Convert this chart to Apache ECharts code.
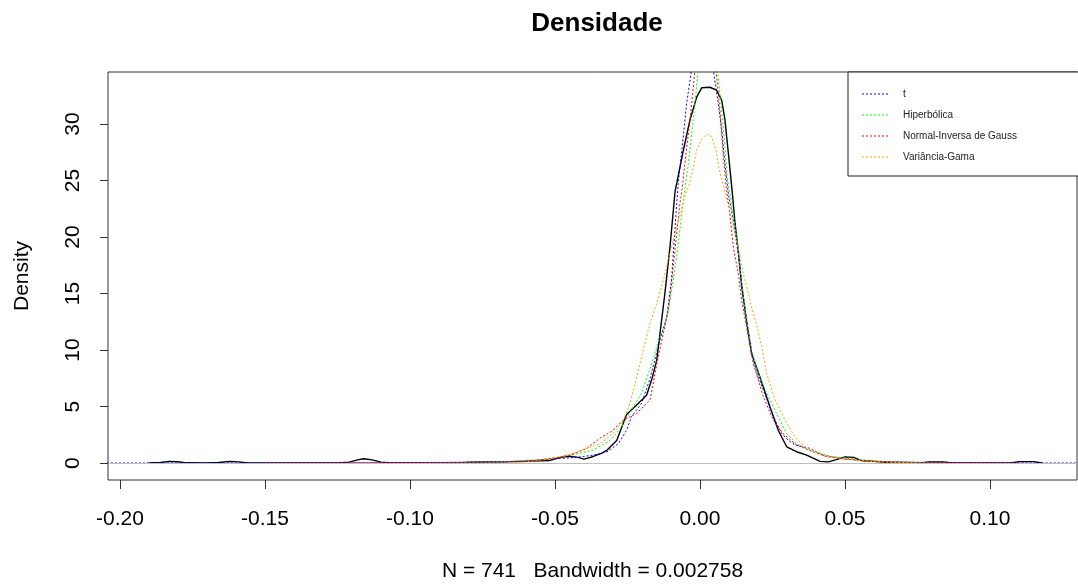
<!DOCTYPE html>
<html>
<head>
<meta charset="utf-8">
<script src="https://cdn.jsdelivr.net/npm/echarts@6/dist/echarts.min.js"></script>
<style>
  html, body { margin: 0; padding: 0; background: #fff; }
  #chart { width: 1078px; height: 585px; }
</style>
</head>
<body>
<div id="chart"></div>
<script>
var kde = [
  [-0.190, 0], [-0.186, 0.05], [-0.183, 0.15], [-0.180, 0.12], [-0.177, 0.02], [-0.170, 0],
  [-0.166, 0.05], [-0.162, 0.15], [-0.159, 0.1], [-0.156, 0.01], [-0.125, 0], [-0.121, 0.08],
  [-0.118, 0.28], [-0.116, 0.38], [-0.113, 0.28], [-0.110, 0.08], [-0.106, 0], [-0.083, 0],
  [-0.079, 0.08], [-0.073, 0.1], [-0.068, 0.1], [-0.060, 0.15], [-0.052, 0.22], [-0.048, 0.5],
  [-0.045, 0.6], [-0.042, 0.5], [-0.040, 0.35], [-0.037, 0.56], [-0.034, 0.85], [-0.032, 1.15],
  [-0.0287, 2.0], [-0.0253, 4.3], [-0.022, 5.1], [-0.0184, 6.0], [-0.0165, 7.5], [-0.0149, 9.1],
  [-0.0138, 11.4], [-0.0121, 15.0], [-0.0103, 19.2], [-0.0086, 24.0], [-0.0057, 27.7], [-0.0034, 30.4],
  [-0.0011, 32.4], [0.0006, 33.2], [0.0034, 33.25], [0.0057, 33.0], [0.0075, 32.1], [0.0086, 30.4],
  [0.0098, 27.4], [0.0112, 23.8], [0.0121, 21.2], [0.0132, 18.8], [0.0144, 15.6], [0.0161, 12.5],
  [0.0178, 9.7], [0.0207, 7.6], [0.0241, 5.0], [0.027, 2.9], [0.0299, 1.44], [0.0333, 1.0],
  [0.0368, 0.7], [0.0414, 0.15], [0.0443, 0.1], [0.047, 0.3], [0.050, 0.55], [0.053, 0.5],
  [0.056, 0.2], [0.060, 0.15], [0.063, 0.08], [0.066, 0], [0.076, 0], [0.079, 0.1],
  [0.084, 0.1], [0.087, 0], [0.107, 0], [0.110, 0.13], [0.115, 0.13], [0.118, 0]
];
var tDens = [
  [-0.210, 0], [-0.100, 0.02], [-0.070, 0.1], [-0.060, 0.18], [-0.048, 0.41], [-0.0425, 0.5],
  [-0.0368, 0.7], [-0.032, 1.0], [-0.0282, 1.7], [-0.0253, 2.9], [-0.0236, 4.1], [-0.0201, 5.3],
  [-0.0172, 7.5], [-0.0144, 10.3], [-0.0115, 12.9], [-0.0098, 16.2], [-0.0080, 23.0], [-0.0075, 24.7],
  [-0.0060, 28.3], [-0.0046, 31.8], [-0.0029, 34.8], [-0.0012, 38.0], [0.0008, 39.5], [0.0028, 38.0],
  [0.0046, 34.8], [0.0063, 31.8], [0.0075, 29.5], [0.0086, 26.5], [0.0098, 23.8], [0.0115, 21.5],
  [0.0132, 18.5], [0.0146, 15.5], [0.0161, 12.6], [0.0178, 9.8], [0.0195, 8.0], [0.0218, 6.5],
  [0.0253, 4.1], [0.0282, 2.6], [0.0305, 2.0], [0.0328, 1.6], [0.0379, 1.3], [0.0425, 0.7],
  [0.050, 0.35], [0.060, 0.15], [0.075, 0.06], [0.090, 0.02], [0.135, 0]
];
var hipDens = [
  [-0.095, 0], [-0.080, 0.05], [-0.065, 0.15], [-0.055, 0.3], [-0.048, 0.55], [-0.0425, 0.8],
  [-0.0368, 1.15], [-0.031, 2.0], [-0.027, 3.2], [-0.0236, 4.7], [-0.0201, 6.2], [-0.017, 8.5],
  [-0.0145, 10.6], [-0.0128, 11.8], [-0.0117, 12.6], [-0.0103, 14.4], [-0.0080, 18.3], [-0.0057, 23.3],
  [-0.0040, 26.5], [-0.0023, 30.4], [-0.0006, 34.8], [0.0012, 37.3], [0.0028, 38.0], [0.0045, 37.0],
  [0.0060, 34.8], [0.0075, 31.2], [0.0086, 28.0], [0.0094, 25.3], [0.0105, 23.5], [0.0121, 21.0],
  [0.0132, 18.8], [0.0146, 15.5], [0.0161, 12.6], [0.0178, 10.0], [0.0200, 8.0], [0.023, 6.2],
  [0.0264, 4.4], [0.0299, 2.6], [0.0333, 1.7], [0.0379, 1.15], [0.0448, 0.6], [0.055, 0.3],
  [0.065, 0.12], [0.075, 0.05], [0.085, 0]
];
var nigDens = [
  [-0.150, 0], [-0.120, 0.02], [-0.090, 0.05], [-0.070, 0.1], [-0.058, 0.2], [-0.050, 0.45],
  [-0.0448, 0.7], [-0.039, 1.3], [-0.0345, 2.2], [-0.0305, 2.8], [-0.0264, 3.8], [-0.0218, 4.4],
  [-0.0172, 5.6], [-0.0144, 9.4], [-0.0109, 13.5], [-0.0092, 17.4], [-0.0069, 23.0], [-0.0063, 23.9],
  [-0.0052, 26.5], [-0.0034, 30.4], [-0.0017, 34.8], [0.0003, 38.0], [0.0020, 38.8], [0.0038, 37.8],
  [0.0055, 34.8], [0.0069, 31.2], [0.0080, 27.4], [0.0090, 24.5], [0.0103, 22.1], [0.0115, 19.1],
  [0.0132, 16.8], [0.0144, 14.4], [0.0158, 12.4], [0.0184, 8.8], [0.0218, 5.9], [0.0253, 3.8],
  [0.0287, 2.6], [0.0333, 1.6], [0.039, 1.0], [0.0437, 0.56], [0.050, 0.35], [0.060, 0.15],
  [0.075, 0.06], [0.090, 0.03], [0.110, 0]
];
var vgDens = [
  [-0.065, 0], [-0.058, 0.15], [-0.052, 0.35], [-0.048, 0.56], [-0.0437, 0.86], [-0.039, 1.3],
  [-0.0345, 1.7], [-0.030, 2.6], [-0.0264, 3.8], [-0.0241, 5.3], [-0.0207, 8.8], [-0.0172, 12.4],
  [-0.0149, 14.1], [-0.0126, 16.2], [-0.0103, 18.6], [-0.0075, 21.3], [-0.0050, 23.8], [-0.0037, 24.6],
  [-0.0023, 26.2], [-0.0011, 27.7], [0.0006, 28.7], [0.0023, 29.1], [0.0040, 28.9], [0.0055, 27.7],
  [0.0067, 25.9], [0.0088, 23.8], [0.0110, 21.5], [0.0132, 19.1], [0.0149, 16.8], [0.0167, 15.0],
  [0.0184, 13.2], [0.0195, 12.3], [0.0213, 10.3], [0.023, 7.9], [0.0259, 5.6], [0.0293, 3.8],
  [0.0328, 2.3], [0.0362, 1.44], [0.0414, 0.86], [0.0448, 0.56], [0.052, 0.3], [0.060, 0.12],
  [0.075, 0]
];
var legendNames = ['t', 'Hiperbólica', 'Normal-Inversa de Gauss', 'Variância-Gama'];
var legendColors = ['#0000ff', '#00ff00', '#ff0000', '#ffa500'];
var xTicks = [-0.20, -0.15, -0.10, -0.05, 0.00, 0.05, 0.10];
var yTicks = [0, 5, 10, 15, 20, 25, 30];

var chart = echarts.init(document.getElementById('chart'));
var font = 'Liberation Sans, Arial, sans-serif';
var dotted = [2, 2];

function fitted(name, data, color) {
  return {
    name: name,
    type: 'line',
    data: data,
    symbol: 'none',
    lineStyle: { color: color, width: 1, type: dotted }
  };
}

// caixa da legenda no estilo do R (desenhada a mao)
var legendGraphics = [{
  type: 'rect',
  shape: { x: 848, y: 72, width: 260, height: 104 },
  style: { fill: '#fff', stroke: '#222', lineWidth: 1 }
}];
legendNames.forEach(function (nm, i) {
  var y = 94 + 21 * i;
  legendGraphics.push({
    type: 'line',
    shape: { x1: 862, y1: y, x2: 890, y2: y },
    style: { stroke: legendColors[i], lineWidth: 1, lineDash: dotted }
  });
  legendGraphics.push({
    type: 'text',
    x: 903, y: y,
    style: { text: nm, fill: '#222', font: '10px ' + font, textVerticalAlign: 'middle' }
  });
});

var option = {
  animation: false,
  backgroundColor: '#fff',
  title: {
    text: 'Densidade',
    left: 592,
    textAlign: 'center',
    top: 6,
    textStyle: { fontFamily: font, fontSize: 26, fontWeight: 'bold', color: '#000' }
  },
  grid: {
    left: 108, right: 1, top: 72, bottom: 105,
    outerBoundsMode: 'none',
    show: true, borderColor: '#333', borderWidth: 1, backgroundColor: 'transparent'
  },
  graphic: legendGraphics,
  xAxis: {
    type: 'value',
    min: -0.2041,
    max: 0.13,
    name: 'N = 741   Bandwidth = 0.002758',
    nameLocation: 'middle',
    nameGap: 81,
    nameTextStyle: { fontFamily: font, fontSize: 21, color: '#000' },
    axisLine: { show: false, onZero: false },
    splitLine: { show: false },
    axisTick: { show: true, length: 9, customValues: xTicks, lineStyle: { color: '#333' } },
    axisLabel: {
      customValues: xTicks, margin: 29,
      fontFamily: font, fontSize: 21, color: '#000',
      formatter: function (v) { return v.toFixed(2); }
    }
  },
  yAxis: {
    type: 'value',
    min: -1.5,
    max: 34.6,
    name: 'Density',
    nameLocation: 'middle',
    nameGap: 75,
    nameRotate: 90,
    nameTextStyle: { fontFamily: font, fontSize: 21, color: '#000' },
    axisLine: { show: false, onZero: false },
    splitLine: { show: false },
    axisTick: { show: true, length: 8, customValues: yTicks, lineStyle: { color: '#333' } },
    axisLabel: {
      customValues: yTicks, margin: 24, rotate: 90,
      fontFamily: font, fontSize: 21, color: '#000'
    }
  },
  series: [
    {
      name: 'kde',
      type: 'line',
      data: kde,
      symbol: 'none',
      lineStyle: { color: '#000', width: 1.4 },
      markLine: {
        silent: true,
        symbol: 'none',
        label: { show: false },
        lineStyle: { color: '#bebebe', type: 'solid', width: 1 },
        data: [{ yAxis: 0 }]
      }
    },
    fitted('t', tDens, legendColors[0]),
    fitted('Hiperbólica', hipDens, legendColors[1]),
    fitted('Normal-Inversa de Gauss', nigDens, legendColors[2]),
    fitted('Variância-Gama', vgDens, legendColors[3])
  ]
};
chart.setOption(option);
</script>
</body>
</html>
